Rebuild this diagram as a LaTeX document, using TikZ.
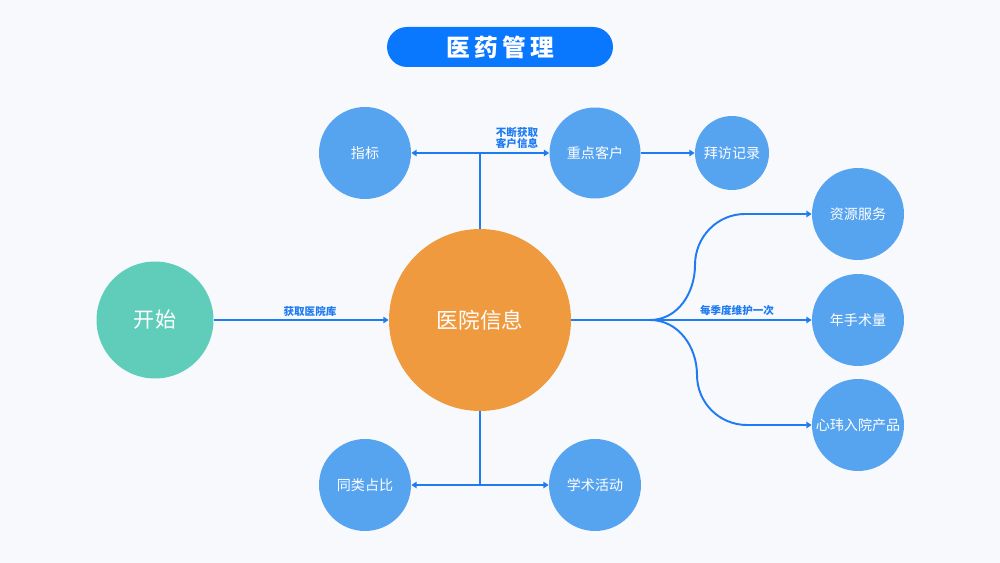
\documentclass[tikz,border=0pt]{standalone}
\usepackage{fontspec}
\setmainfont{Noto Sans CJK SC}
\usetikzlibrary{arrows.meta,positioning}
\definecolor{bgpaper}{HTML}{F7F9FD}
\definecolor{titleblue}{HTML}{0A77FF}
\definecolor{startgreen}{HTML}{5FCDB9}
\definecolor{hosporange}{HTML}{F09A40}
\definecolor{nodeblue}{HTML}{56A3F0}
\definecolor{linkblue}{HTML}{1F7BF2}

\begin{document}
\begin{tikzpicture}[
  x=0.02cm,y=-0.02cm,>={Triangle[length=3pt,width=3.6pt]},
  bubble/.style={circle,fill=nodeblue,text=white,inner sep=0pt,
    minimum size=1.84cm,font=\fontsize{8}{9}\selectfont},
  small/.style={bubble,minimum size=1.48cm},
  link/.style={draw=linkblue,line width=1.1pt},
  tag/.style={text=linkblue,font=\bfseries\fontsize{6}{6.6}\selectfont,
    align=center,inner sep=1pt}
]
\fill[bgpaper] (0,0) rectangle (1000,563);
\useasboundingbox (0,0) rectangle (1000,563);
% title
\node[fill=titleblue,rounded corners=0.4cm,minimum width=4.52cm,minimum height=0.8cm,
  text=white,font=\bfseries\fontsize{13.5}{14}\selectfont] (title) at (500,47)
  {\addfontfeature{LetterSpace=18}医药管理};
% nodes
\node[circle,fill=startgreen,text=white,inner sep=0pt,minimum size=2.34cm,
  font=\fontsize{12}{13}\selectfont] (start) at (155,320) {开始};
\node[circle,fill=hosporange,text=white,inner sep=0pt,minimum size=3.64cm,
  font=\fontsize{12.3}{13}\selectfont] (hosp) at (480,320) {医院信息};
\node[bubble] (index) at (365,153) {指标};
\node[bubble,minimum size=1.82cm] (key) at (595,153) {重点客户};
\node[small] (visit) at (732,153) {拜访记录};
\node[bubble] (res) at (858,214) {资源服务};
\node[bubble] (ops) at (858,320) {年手术量};
\node[bubble] (prod) at (858,425) {心玮入院产品};
\node[bubble] (share) at (365,485) {同类占比};
\node[bubble] (acad) at (595,485) {学术活动};
% junctions
\coordinate (jtop) at (480,153);
\coordinate (jbot) at (480,485);
\coordinate (fork) at (650,320);
% links
\draw[link,->] (start) -- (hosp);
\draw[link] (hosp.north) -- (jtop);
\draw[link,<->] (index) -- (key);
\draw[link,->] (key) -- (visit);
\draw[link] (hosp.south) -- (jbot);
\draw[link,<->] (share) -- (acad);
\draw[link,->] (hosp) -- (ops);
\draw[link,->] (fork) to[out=0,in=-90] (695,265) to[out=90,in=180] (745,214) -- (res.west);
\draw[link,->] (fork) to[out=0,in=90] (697,375) to[out=-90,in=180] (747,425) -- (prod.west);
% labels
\node[tag] (tagstart) at (310,311) {获取医院库};
\node[tag] (tagkey) at (517,138) {不断获取\\客户信息};
\node[tag] (tagfork) at (737,311) {每季度维护一次};
\end{tikzpicture}
\end{document}
